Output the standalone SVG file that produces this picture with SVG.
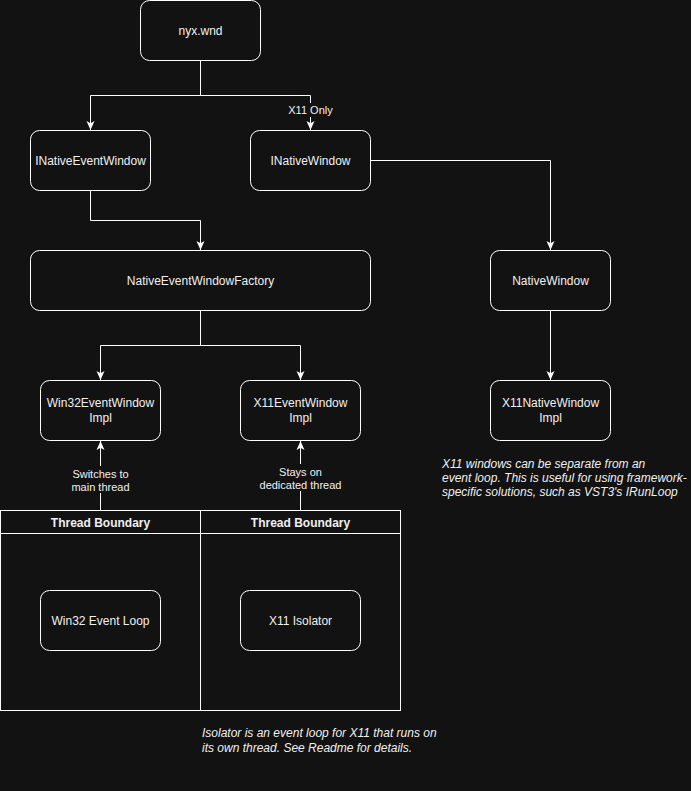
<svg xmlns="http://www.w3.org/2000/svg" width="691" height="791" viewBox="0 0 691 791">
<style>
.node rect{fill:#121212;stroke:#ffffff;stroke-width:1}
.t{font-family:"Liberation Sans",Arial,sans-serif;font-size:12px;fill:#f0f0f0;text-anchor:middle}
.lbl{font-family:"Liberation Sans",Arial,sans-serif;font-size:11px;fill:#f0f0f0;text-anchor:middle}
.hd{font-family:"Liberation Sans",Arial,sans-serif;font-size:12px;font-weight:bold;fill:#f0f0f0;text-anchor:middle}
.note{font-family:"Liberation Sans",Arial,sans-serif;font-size:12px;font-style:italic;fill:#f0f0f0}
.edge{fill:none;stroke:#ffffff;stroke-width:1}
.lane{fill:#121212;stroke:#ffffff;stroke-width:1}
</style>
<defs>
<marker id="arr" markerUnits="userSpaceOnUse" markerWidth="10" markerHeight="9" viewBox="0 0 10 9" refX="9" refY="4.5" orient="auto">
<path d="M0,0.5 L9,4.5 L0,8.5 L2.2,4.5 Z" fill="#ffffff"/>
</marker>
</defs>
<rect x="0" y="0" width="691" height="791" fill="#121212"/>

<g id="lane-win32">
<rect class="lane" x="0.5" y="510.5" width="200" height="200"/>
<line x1="0.5" y1="533.5" x2="200.5" y2="533.5" stroke="#ffffff"/>
<text class="hd" x="100.5" y="527">Thread Boundary</text>
</g>
<g id="lane-x11">
<rect class="lane" x="200.5" y="510.5" width="200" height="200"/>
<line x1="200.5" y1="533.5" x2="400.5" y2="533.5" stroke="#ffffff"/>
<text class="hd" x="300.5" y="527">Thread Boundary</text>
</g>

<g id="connectors">
<path class="edge" d="M200.5,60.5 V95.5 H90.5 V130" marker-end="url(#arr)"/>
<path class="edge" d="M200.5,95.5 H310.5 V130" marker-end="url(#arr)"/>
<rect x="285" y="103" width="51" height="14" fill="#121212"/>
<text class="lbl" x="310.5" y="114">X11 Only</text>
<path class="edge" d="M90.5,190.5 V220.5 H200.5 V250" marker-end="url(#arr)"/>
<path class="edge" d="M370.5,160.5 H550.5 V250" marker-end="url(#arr)"/>
<path class="edge" d="M200.5,310.5 V345.5 H100.5 V380" marker-end="url(#arr)"/>
<path class="edge" d="M200.5,345.5 H300.5 V380" marker-end="url(#arr)"/>
<path class="edge" d="M550.5,310.5 V380" marker-end="url(#arr)"/>
<path class="edge" d="M100.5,510.5 V441" marker-end="url(#arr)"/>
<rect x="70" y="466" width="61" height="27" fill="#121212"/>
<text class="lbl" x="100.5" y="478">Switches to</text>
<text class="lbl" x="100.5" y="491">main thread</text>
<path class="edge" d="M300.5,510.5 V441" marker-end="url(#arr)"/>
<rect x="258" y="464" width="85" height="27" fill="#121212"/>
<text class="lbl" x="300.5" y="476">Stays on</text>
<text class="lbl" x="300.5" y="489">dedicated thread</text>
</g>

<g id="nyx-wnd" class="node">
<rect x="140.5" y="0.5" width="120" height="60" rx="9" ry="9"/>
<text class="t" x="200.5" y="35">nyx.wnd</text>
</g>
<g id="INativeEventWindow" class="node">
<rect x="30.5" y="130.5" width="120" height="60" rx="9" ry="9"/>
<text class="t" x="90.5" y="165">INativeEventWindow</text>
</g>
<g id="INativeWindow" class="node">
<rect x="250.5" y="130.5" width="120" height="60" rx="9" ry="9"/>
<text class="t" x="310.5" y="165">INativeWindow</text>
</g>
<g id="NativeEventWindowFactory" class="node">
<rect x="30.5" y="250.5" width="340" height="60" rx="9" ry="9"/>
<text class="t" x="200.5" y="285">NativeEventWindowFactory</text>
</g>
<g id="NativeWindow" class="node">
<rect x="490.5" y="250.5" width="120" height="60" rx="9" ry="9"/>
<text class="t" x="550.5" y="285">NativeWindow</text>
</g>
<g id="Win32EventWindowImpl" class="node">
<rect x="40.5" y="380.5" width="120" height="60" rx="9" ry="9"/>
<text class="t" x="100.5" y="407">Win32EventWindow</text>
<text class="t" x="100.5" y="422">Impl</text>
</g>
<g id="X11EventWindowImpl" class="node">
<rect x="240.5" y="380.5" width="120" height="60" rx="9" ry="9"/>
<text class="t" x="300.5" y="407">X11EventWindow</text>
<text class="t" x="300.5" y="422">Impl</text>
</g>
<g id="X11NativeWindowImpl" class="node">
<rect x="490.5" y="380.5" width="120" height="60" rx="9" ry="9"/>
<text class="t" x="550.5" y="407">X11NativeWindow</text>
<text class="t" x="550.5" y="422">Impl</text>
</g>
<g id="Win32EventLoop" class="node">
<rect x="40.5" y="590.5" width="120" height="60" rx="9" ry="9"/>
<text class="t" x="100.5" y="625">Win32 Event Loop</text>
</g>
<g id="X11Isolator" class="node">
<rect x="240.5" y="590.5" width="120" height="60" rx="9" ry="9"/>
<text class="t" x="300.5" y="625">X11 Isolator</text>
</g>

<g id="note-x11">
<text class="note" x="442" y="468">X11 windows can be separate from an</text>
<text class="note" x="442" y="482">event loop. This is useful for using framework-</text>
<text class="note" x="442" y="496">specific solutions, such as VST3's IRunLoop</text>
</g>
<g id="note-isolator">
<text class="note" x="202" y="737">Isolator is an event loop for X11 that runs on</text>
<text class="note" x="202" y="751.5">its own thread. See Readme for details.</text>
</g>
</svg>
